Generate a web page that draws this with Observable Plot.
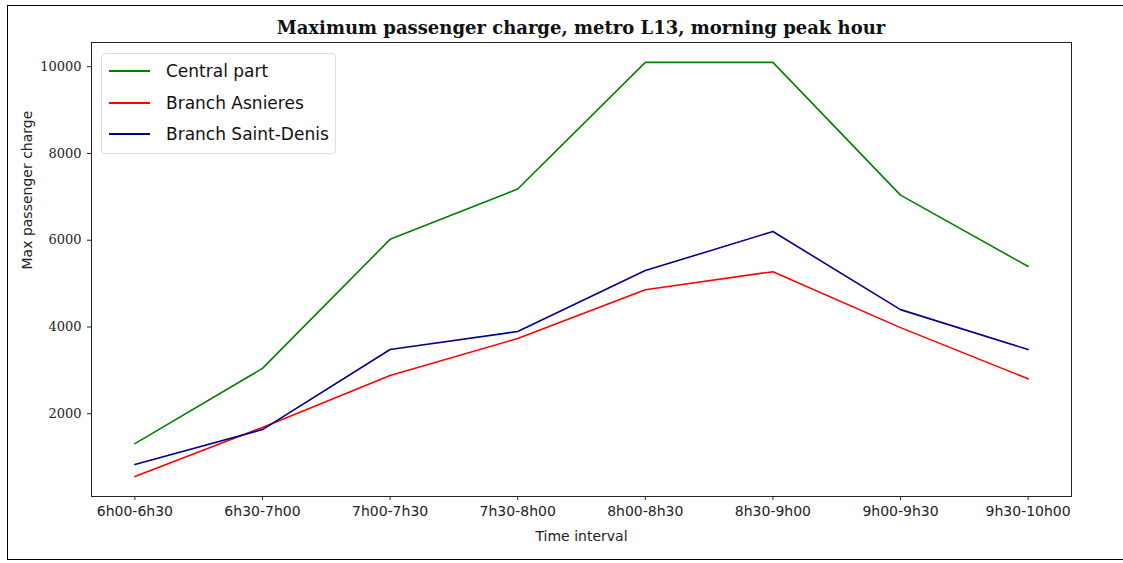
<!DOCTYPE html>
<html><head><meta charset="utf-8">
<script src="https://cdn.jsdelivr.net/npm/d3@7"></script>
<script src="https://cdn.jsdelivr.net/npm/@observablehq/plot@0.6"></script>
<style>
body{margin:0;background:#fff;width:1123px;height:563px;position:relative;overflow:hidden}
#outer{position:absolute;left:7px;top:5px;width:1120px;height:555px;border:1px solid #000;box-sizing:border-box;pointer-events:none}
#title{position:absolute;left:91px;width:980px;top:17px;text-align:center;font-family:"DejaVu Serif","Liberation Serif",serif;font-weight:bold;font-size:18px;color:#111}
#chart{position:absolute;left:0;top:36px}
#legend{position:absolute;left:101px;top:53px;width:235px;height:101px;border:1px solid #ddd;border-radius:4px;background:rgba(255,255,255,0.85);box-sizing:border-box;font-family:"DejaVu Sans","Noto Sans",sans-serif;font-size:17px;color:#111}
.item{position:absolute;left:7px;height:20px;display:flex;align-items:center}
.sw{width:41px;height:0;border-top:2px solid;margin-right:16px}
</style></head>
<body>
<div id="title">Maximum passenger charge, metro L13, morning peak hour</div>
<div id="chart"></div>
<div id="legend"></div>
<div id="outer"></div>
<script>
const intervals = ["6h00-6h30","6h30-7h00","7h00-7h30","7h30-8h00","8h00-8h30","8h30-9h00","9h00-9h30","9h30-10h00"];
const central = [1310, 3045, 6020, 7180, 10100, 10100, 7040, 5395];
const asnieres = [555, 1685, 2880, 3735, 4860, 5275, 3985, 2805];
const saintDenis = [830, 1635, 3480, 3895, 5300, 6200, 4400, 3480];
const seriesNames = ["Central part","Branch Asnieres","Branch Saint-Denis"];
const seriesColors = ["green","red","#00008b"];
const yTicks = [2000,4000,6000,8000,10000];

const rows = [];
[central, asnieres, saintDenis].forEach((vals, s) => vals.forEach((v, i) => rows.push({series: seriesNames[s], interval: intervals[i], value: v})));

const plot = Plot.plot({
  width: 1123, height: 527,
  marginLeft: 91, marginRight: 52, marginTop: 6, marginBottom: 67,
  style: {fontSize: "14px", background: "transparent", color: "#222"},
  x: {type: "point", domain: intervals, padding: 0.34, round: false, label: null},
  y: {domain: [92, 10558], label: null},
  color: {domain: seriesNames, range: seriesColors},
  marks: [
    Plot.frame({stroke: "#222"}),
    Plot.axisX({ticks: intervals, tickSize: 4, tickPadding: 6, fontFamily: "DejaVu Sans, Noto Sans, sans-serif", fontSize: 14, label: null}),
    Plot.axisY({ticks: yTicks, tickFormat: d => String(d), tickSize: 4, tickPadding: 6, fontFamily: "DejaVu Serif, Liberation Serif, serif", fontSize: 13, label: null}),
    Plot.lineY(rows, {x: "interval", y: "value", z: "series", stroke: "series", strokeWidth: 1.6}),
    Plot.text(["Time interval"], {frameAnchor: "bottom", dy: 44, fontFamily: "DejaVu Sans, Noto Sans, sans-serif", fontSize: 14}),
    Plot.text(["Max passenger charge"], {frameAnchor: "left", dx: -64, rotate: -90, fontFamily: "DejaVu Sans, Noto Sans, sans-serif", fontSize: 14})
  ]
});
document.getElementById("chart").append(plot);

const leg = document.getElementById("legend");
seriesNames.forEach((n, i) => {
  const d = document.createElement("div");
  d.className = "item";
  d.style.top = (7 + i * 31.5) + "px";
  d.innerHTML = `<span class="sw" style="border-color:${seriesColors[i]}"></span><span>${n}</span>`;
  leg.append(d);
});
</script>
</body></html>
